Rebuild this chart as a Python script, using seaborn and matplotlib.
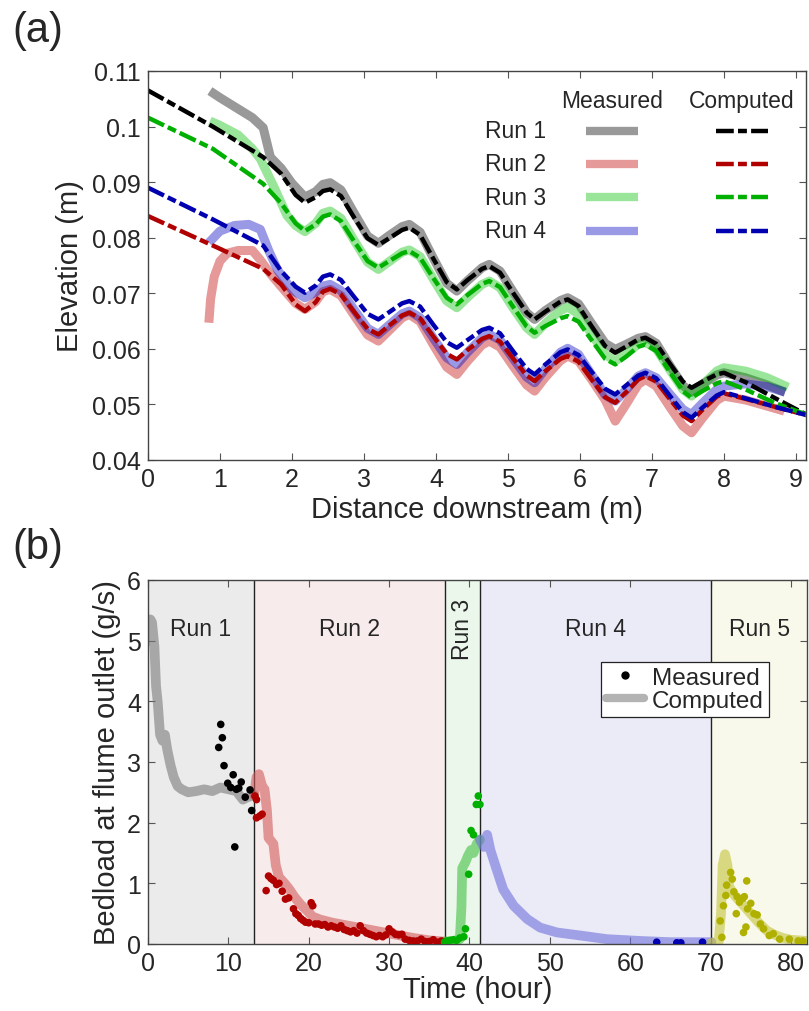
import matplotlib
matplotlib.use("Agg")
import numpy as np
import pandas as pd
import seaborn as sns
import matplotlib.pyplot as plt
from matplotlib.lines import Line2D

sns.set_style("ticks")
plt.rcParams['font.family'] = ['Liberation Sans', 'DejaVu Sans']

# ---------------- Panel (a): bed elevation profiles ----------------
wave_x = [2.18, 2.33, 2.43, 2.53, 2.68, 2.86, 3.05, 3.2, 3.35, 3.53, 3.63, 3.78, 3.96, 4.15,
          4.29, 4.44, 4.64, 4.74, 4.89, 5.07, 5.26, 5.37, 5.52, 5.73, 5.83, 5.98, 6.16, 6.35,
          6.49, 6.64, 6.81, 6.91, 7.06, 7.24, 7.43, 7.55, 7.7, 7.9, 8.0]

comp_x = [0.0, 0.9, 1.6, 1.85, 2.05] + wave_x + [8.3, 8.7, 9.2]
comp1_y = [0.1065, 0.1000, 0.0945, 0.0915, 0.0877,
           0.0863, 0.0873, 0.0884, 0.0887, 0.0875, 0.0837, 0.0799,
           0.0787, 0.0799, 0.0814, 0.0818, 0.0805, 0.0763, 0.0720,
           0.0707, 0.0724, 0.0744, 0.0749, 0.0737, 0.0701, 0.0665,
           0.0653, 0.0667, 0.0685, 0.0689, 0.0677, 0.0641, 0.0605,
           0.0593, 0.0604, 0.0617, 0.0620, 0.0609, 0.0575, 0.0541,
           0.0530, 0.0541, 0.0554, 0.0557,
           0.0540, 0.0512, 0.0478]
comp2_y = [0.0839, 0.0786, 0.0744, 0.0716, 0.0680,
           0.0668, 0.0684, 0.0703, 0.0708, 0.0698, 0.0667, 0.0636,
           0.0626, 0.0642, 0.0660, 0.0665, 0.0655, 0.0623, 0.0591,
           0.0581, 0.0598, 0.0618, 0.0623, 0.0613, 0.0583, 0.0552,
           0.0542, 0.0560, 0.0582, 0.0587, 0.0577, 0.0545, 0.0513,
           0.0503, 0.0522, 0.0545, 0.0551, 0.0541, 0.0511, 0.0480,
           0.0470, 0.0490, 0.0514, 0.0520,
           0.0510, 0.0496, 0.0479]
comp3_y = [0.1016, 0.0960, 0.0897, 0.0862, 0.0826,
           0.0812, 0.0824, 0.0838, 0.0842, 0.0830, 0.0794, 0.0758,
           0.0746, 0.0758, 0.0772, 0.0776, 0.0764, 0.0728, 0.0692,
           0.0680, 0.0697, 0.0717, 0.0722, 0.0711, 0.0676, 0.0640,
           0.0629, 0.0641, 0.0655, 0.0659, 0.0649, 0.0616, 0.0582,
           0.0572, 0.0586, 0.0604, 0.0608, 0.0596, 0.0560, 0.0524,
           0.0512, 0.0524, 0.0538, 0.0542,
           0.0527, 0.0503, 0.0479]
comp4_y = [0.0890, 0.0833, 0.0786, 0.0740, 0.0712,
           0.0701, 0.0714, 0.0730, 0.0734, 0.0724, 0.0694, 0.0663,
           0.0653, 0.0666, 0.0682, 0.0686, 0.0676, 0.0644, 0.0612,
           0.0602, 0.0616, 0.0634, 0.0638, 0.0628, 0.0596, 0.0564,
           0.0554, 0.0572, 0.0594, 0.0599, 0.0589, 0.0559, 0.0528,
           0.0518, 0.0534, 0.0552, 0.0557, 0.0547, 0.0517, 0.0486,
           0.0476, 0.0494, 0.0516, 0.0522,
           0.0511, 0.0496, 0.0479]

meas1_x = [0.86, 1.0, 1.25, 1.45, 1.6, 1.7, 1.85, 2.0] + wave_x + [8.3, 8.6, 8.85]
meas1_y = [0.1064, 0.1052, 0.1032, 0.1016, 0.0998, 0.0945, 0.0925, 0.0898,
           0.0873, 0.0883, 0.0896, 0.0899, 0.0886, 0.0845, 0.0803,
           0.0790, 0.0804, 0.0820, 0.0824, 0.0810, 0.0764, 0.0718,
           0.0704, 0.0723, 0.0746, 0.0752, 0.0740, 0.0703, 0.0665,
           0.0653, 0.0669, 0.0687, 0.0692, 0.0681, 0.0646, 0.0610,
           0.0599, 0.0608, 0.0619, 0.0622, 0.0610, 0.0572, 0.0534,
           0.0522, 0.0536, 0.0553, 0.0557,
           0.0548, 0.0535, 0.0522]
meas2_x = [0.845, 0.87, 0.92, 1.0, 1.1, 1.25, 1.45, 1.56, 1.7, 1.85, 2.05] + wave_x + [8.3, 8.6, 8.84]
meas2_y = [0.0647, 0.0690, 0.0730, 0.0758, 0.0772, 0.0777, 0.0777, 0.0760, 0.0735, 0.0712, 0.0682,
           0.0671, 0.0685, 0.0703, 0.0707, 0.0696, 0.0661, 0.0625,
           0.0614, 0.0633, 0.0656, 0.0662, 0.0649, 0.0608, 0.0567,
           0.0554, 0.0578, 0.0607, 0.0614, 0.0603, 0.0569, 0.0535,
           0.0524, 0.0549, 0.0579, 0.0587, 0.0578, 0.0545, 0.0508,
           0.0470, 0.0500, 0.0536, 0.0545, 0.0533, 0.0497, 0.0461,
           0.0449, 0.0475, 0.0507, 0.0515,
           0.0508, 0.0497, 0.0488]
meas3_x = [0.86, 1.0, 1.25, 1.45, 1.56, 1.74, 1.93, 2.05] + wave_x + [8.3, 8.6, 8.89]
meas3_y = [0.1010, 0.1002, 0.0985, 0.0960, 0.0942, 0.0894, 0.0840, 0.0822,
           0.0811, 0.0826, 0.0844, 0.0848, 0.0835, 0.0796, 0.0756,
           0.0743, 0.0757, 0.0774, 0.0778, 0.0766, 0.0726, 0.0686,
           0.0674, 0.0693, 0.0716, 0.0722, 0.0710, 0.0674, 0.0638,
           0.0626, 0.0646, 0.0669, 0.0675, 0.0663, 0.0627, 0.0590,
           0.0578, 0.0592, 0.0608, 0.0612, 0.0600, 0.0564, 0.0527,
           0.0515, 0.0535, 0.0560, 0.0566,
           0.0560, 0.0548, 0.0531]
meas4_x = [0.845, 1.0, 1.2, 1.4, 1.56, 1.68, 1.8, 2.0] + wave_x + [8.3, 8.6, 8.85]
meas4_y = [0.0791, 0.0812, 0.0822, 0.0824, 0.0815, 0.0776, 0.0742, 0.0706,
           0.0692, 0.0702, 0.0713, 0.0716, 0.0705, 0.0671, 0.0637,
           0.0626, 0.0643, 0.0663, 0.0668, 0.0656, 0.0620, 0.0584,
           0.0572, 0.0594, 0.0620, 0.0626, 0.0616, 0.0583, 0.0549,
           0.0539, 0.0564, 0.0594, 0.0601, 0.0590, 0.0554, 0.0517,
           0.0506, 0.0526, 0.0551, 0.0557, 0.0548, 0.0520, 0.0491,
           0.0482, 0.0502, 0.0527, 0.0533,
           0.0537, 0.0532, 0.0522]

run_labels_a = ["Run 1", "Run 2", "Run 3", "Run 4"]
meas_colors = ["#000000", "#c00000", "#00c000", "#0000c0"]
comp_colors = ["#000000", "#b00000", "#00b000", "#0000b0"]
elev_ticks = [0.04, 0.05, 0.06, 0.07, 0.08, 0.09, 0.1, 0.11]
elev_ticklabels = ["0.04", "0.05", "0.06", "0.07", "0.08", "0.09", "0.1", "0.11"]
dist_ticks = [0, 1, 2, 3, 4, 5, 6, 7, 8, 9]

# ---------------- Panel (b): bedload at outlet ----------------
run_bounds = [0.0, 13.2, 36.9, 41.3, 70.1, 82.0]
run_names = ["Run 1", "Run 2", "Run 3", "Run 4", "Run 5"]
shade_colors = ["#ebebeb", "#f8ebeb", "#ebf7eb", "#ebebf8", "#f8f8eb"]
band_colors = ["#7a7a7a", "#d05a5a", "#40c040", "#6f6fdc", "#c4c43a"]
dot_colors = ["#000000", "#b00000", "#00b000", "#0000b0", "#b0b000"]

t_c1 = [0, 0.3, 0.5, 0.8, 1.0, 1.2, 1.5, 1.8, 2.1, 2.4, 2.8, 3.2, 3.7, 4.2, 5, 6, 7, 8, 9, 10, 11, 11.8, 12.4, 13.2]
q_c1 = [5.0, 5.35, 5.3, 4.9, 4.25, 4.0, 3.45, 3.35, 3.45, 3.2, 2.95, 2.75, 2.6, 2.55, 2.5, 2.52, 2.55, 2.52, 2.58, 2.55, 2.52, 2.38, 2.42, 2.45]
t_m1 = [8.8, 9.05, 9.25, 9.46, 9.92, 10.3, 10.6, 10.8, 11.0, 11.3, 11.6, 12.1, 12.7, 12.9]
q_m1 = [3.24, 3.62, 3.40, 2.94, 2.65, 2.58, 2.79, 1.60, 2.55, 2.57, 2.67, 2.42, 2.54, 2.20]

t_c2 = [13.2, 13.5, 13.8, 14.2, 14.5, 14.8, 15.0, 15.6, 15.9, 16.3, 17.0, 17.6, 18.2, 19.0, 19.8, 20.5, 21.5, 23.0, 25.0, 27.0, 29.0, 31.0, 33.0, 35.0, 36.9]
q_c2 = [2.45, 2.75, 2.8, 2.6, 2.55, 2.2, 1.75, 1.65, 1.3, 1.1, 1.0, 0.9, 0.78, 0.65, 0.55, 0.45, 0.4, 0.35, 0.3, 0.25, 0.2, 0.15, 0.1, 0.06, 0.04]
t_m2 = [13.3, 13.5, 13.5, 13.9, 14.2, 14.7, 15.0, 15.3, 15.6, 16.0, 16.3, 16.7, 17.1, 17.5, 18.1, 18.4, 18.7, 19.0, 19.3, 19.6,
        20.0, 20.3, 20.5, 20.8, 21.2, 21.6, 22.0, 22.4, 22.8, 23.2, 23.6, 24.0, 24.4, 24.8, 25.2, 25.6, 26.0, 26.4, 26.8, 27.2,
        27.6, 28.0, 28.4, 28.8, 29.2, 29.6, 30.0, 30.4, 30.8, 31.2, 31.6, 32.0, 32.5, 33.0, 33.5, 34.0, 34.5, 35.0, 35.5, 36.0, 36.5]
q_m2 = [2.44, 2.38, 2.08, 2.11, 2.14, 0.88, 1.12, 1.08, 1.05, 0.98, 1.0, 0.87, 0.74, 0.76, 0.58, 0.5, 0.47, 0.42, 0.39, 0.36,
        0.35, 0.68, 0.63, 0.33, 0.33, 0.31, 0.32, 0.28, 0.30, 0.28, 0.26, 0.30, 0.24, 0.22, 0.20, 0.22, 0.18, 0.30, 0.22, 0.18,
        0.16, 0.14, 0.12, 0.14, 0.12, 0.15, 0.25, 0.20, 0.16, 0.15, 0.16, 0.08, 0.06, 0.05, 0.05, 0.08, 0.04, 0.04, 0.07, 0.03, 0.05]

t_c3 = [36.9, 38.0, 38.8, 39.0, 39.1, 39.5, 39.8, 40.2, 40.5, 40.9, 41.3]
q_c3 = [0.04, 0.05, 0.08, 0.6, 1.25, 1.35, 1.45, 1.55, 1.5, 1.65, 1.72]
t_m3 = [36.9, 37.2, 37.6, 38.0, 38.4, 38.8, 39.3, 39.5, 39.9, 40.2, 40.5, 40.85, 41.1, 41.3]
q_m3 = [0.03, 0.05, 0.06, 0.07, 0.06, 0.10, 0.12, 0.25, 1.15, 1.87, 1.80, 2.30, 2.44, 2.30]

t_c4 = [41.3, 41.8, 42.2, 42.6, 43.4, 44.2, 45.5, 47.2, 48.8, 50.9, 53.8, 57.1, 61.3, 65.0, 70.1]
q_c4 = [1.72, 1.6, 1.8, 1.55, 1.22, 0.9, 0.63, 0.41, 0.27, 0.19, 0.14, 0.08, 0.05, 0.03, 0.03]
t_m4 = [63.3, 65.8, 66.3, 69.0]
q_m4 = [0.03, 0.02, 0.02, 0.03]

t_c5 = [70.1, 71.0, 71.3, 71.5, 71.8, 72.1, 72.3, 73.0, 74.0, 75.0, 76.0, 77.0, 78.0, 79.0, 80.0, 81.0, 82.0]
q_c5 = [0.02, 0.03, 0.5, 1.3, 1.48, 1.3, 0.95, 0.8, 0.65, 0.5, 0.35, 0.22, 0.15, 0.1, 0.07, 0.06, 0.05]
t_m5 = [71.2, 71.4, 71.6, 71.9, 72.0, 72.5, 72.7, 72.9, 73.2, 73.3, 73.6, 74.0, 74.1, 74.2, 74.4, 74.5, 74.6, 75.0,
        75.4, 75.8, 76.2, 76.6, 77.3, 77.8, 78.6, 79.8, 80.9, 81.5]
q_m5 = [0.38, 0.11, 0.63, 0.80, 0.97, 1.18, 1.07, 0.86, 0.50, 0.78, 0.69, 0.75, 0.19, 0.78, 0.28, 1.04, 0.58, 0.67,
        0.50, 0.48, 0.33, 0.25, 0.14, 0.17, 0.08, 0.08, 0.05, 0.05]

time_ticks = [0, 10, 20, 30, 40, 50, 60, 70, 80]
load_ticks = [0, 1, 2, 3, 4, 5, 6]

# ---------------- figure ----------------
W, H = 809, 1012
fig = plt.figure(figsize=(W / 100, H / 100), dpi=100)
ax1 = fig.add_axes([148 / W, 1 - 461 / H, 658 / W, 389 / H])
ax2 = fig.add_axes([148 / W, 1 - 945 / H, 659 / W, 364 / H])

TICK = 18
LAB = 21

def style_axes(ax):
    ax.tick_params(direction='in', top=True, right=True, length=5, width=0.8,
                   color='#555555', labelsize=TICK, pad=5)
    for s in ax.spines.values():
        s.set_color('#444444')
        s.set_linewidth(1.0)

# --- panel (a)
meas = [(meas1_x, meas1_y), (meas2_x, meas2_y), (meas3_x, meas3_y), (meas4_x, meas4_y)]
comp = [comp1_y, comp2_y, comp3_y, comp4_y]
dash = [4.0, 0.95, 2.0, 0.95]
for (mx, my), c in zip(meas, meas_colors):
    sns.lineplot(x=mx, y=my, ax=ax1, color=c, linewidth=6.5, alpha=0.4,
                 sort=False, estimator=None)
    ax1.lines[-1].set_solid_capstyle('butt')
    ax1.lines[-1].set_solid_joinstyle('round')
for cy, c in zip(comp, comp_colors):
    sns.lineplot(x=comp_x, y=cy, ax=ax1, color=c, linewidth=3.2,
                 sort=False, estimator=None)
    ax1.lines[-1].set_dashes(dash)
    ax1.lines[-1].set_dash_joinstyle('round')

ax1.set_xlim(0, 9.14)
ax1.set_ylim(0.04, 0.11)
ax1.set_xticks(dist_ticks)
ax1.set_yticks(elev_ticks)
ax1.set_yticklabels(elev_ticklabels)
ax1.set_xlabel("Distance downstream (m)", fontsize=LAB, labelpad=3)
ax1.set_ylabel("Elevation (m)", fontsize=LAB, labelpad=6)
style_axes(ax1)

# custom legend table (axes coordinates)
LEG = 16.5
ax1.text(0.705, 0.923, "Measured", transform=ax1.transAxes, ha='center', va='center', fontsize=LEG)
ax1.text(0.903, 0.923, "Computed", transform=ax1.transAxes, ha='center', va='center', fontsize=LEG)
rows_y = [0.846, 0.761, 0.676, 0.589]
for lab, ry, mc, cc in zip(run_labels_a, rows_y, meas_colors, comp_colors):
    ax1.text(0.512, ry, lab, transform=ax1.transAxes, ha='left', va='center', fontsize=LEG)
    l1 = Line2D([0.666, 0.745], [ry, ry], transform=ax1.transAxes, color=mc, alpha=0.4,
                lw=6.0, solid_capstyle='butt')
    l2 = Line2D([0.863, 0.942], [ry, ry], transform=ax1.transAxes, color=cc, lw=3.2)
    l2.set_dashes(dash)
    ax1.add_line(l1)
    ax1.add_line(l2)

# --- panel (b)
for i in range(5):
    ax2.axvspan(run_bounds[i], run_bounds[i + 1], color=shade_colors[i], lw=0, zorder=0)
for b in run_bounds[1:-1]:
    ax2.axvline(b, color='#222222', lw=1.0, zorder=1)
for i, name in enumerate(run_names):
    xc = 0.5 * (run_bounds[i] + run_bounds[i + 1])
    rot = 90 if name == "Run 3" else 0
    ax2.text(xc, 5.2, name, ha='center', va='center', fontsize=16.5, rotation=rot, zorder=5)

comp_b = [(t_c1, q_c1), (t_c2, q_c2), (t_c3, q_c3), (t_c4, q_c4), (t_c5, q_c5)]
meas_b = [(t_m1, q_m1), (t_m2, q_m2), (t_m3, q_m3), (t_m4, q_m4), (t_m5, q_m5)]
for (tx, qy), c in zip(comp_b, band_colors):
    sns.lineplot(x=tx, y=qy, ax=ax2, color=c, linewidth=7, alpha=0.6,
                 sort=False, estimator=None, zorder=2)
for (tx, qy), c in zip(meas_b, dot_colors):
    sns.scatterplot(x=tx, y=qy, ax=ax2, color=c, s=30, edgecolor='none', zorder=3)

ax2.set_xlim(0, 82)
ax2.set_ylim(0, 6)
ax2.set_xticks(time_ticks)
ax2.set_yticks(load_ticks)
ax2.set_xlabel("Time (hour)", fontsize=LAB, labelpad=0)
ax2.set_ylabel("Bedload at flume outlet (g/s)", fontsize=LAB, labelpad=4)
style_axes(ax2)

handles = [Line2D([], [], marker='o', color='k', ls='none', ms=5),
           Line2D([], [], color='#b3b3b3', lw=6)]
leg = ax2.legend(handles, ["Measured", "Computed"], loc='upper left',
                 bbox_to_anchor=(0.687, 0.775), fontsize=17.5, frameon=True,
                 fancybox=False, framealpha=1, edgecolor='#222222',
                 handlelength=1.6, handletextpad=0.3, labelspacing=0.05,
                 borderpad=0.2, borderaxespad=0)
leg.get_frame().set_linewidth(0.9)

fig.text(12 / W, 1 - 31 / H, "(a)", fontsize=30, ha='left', va='center')
fig.text(12 / W, 1 - 548 / H, "(b)", fontsize=30, ha='left', va='center')

fig.savefig("out.png", dpi=100)
